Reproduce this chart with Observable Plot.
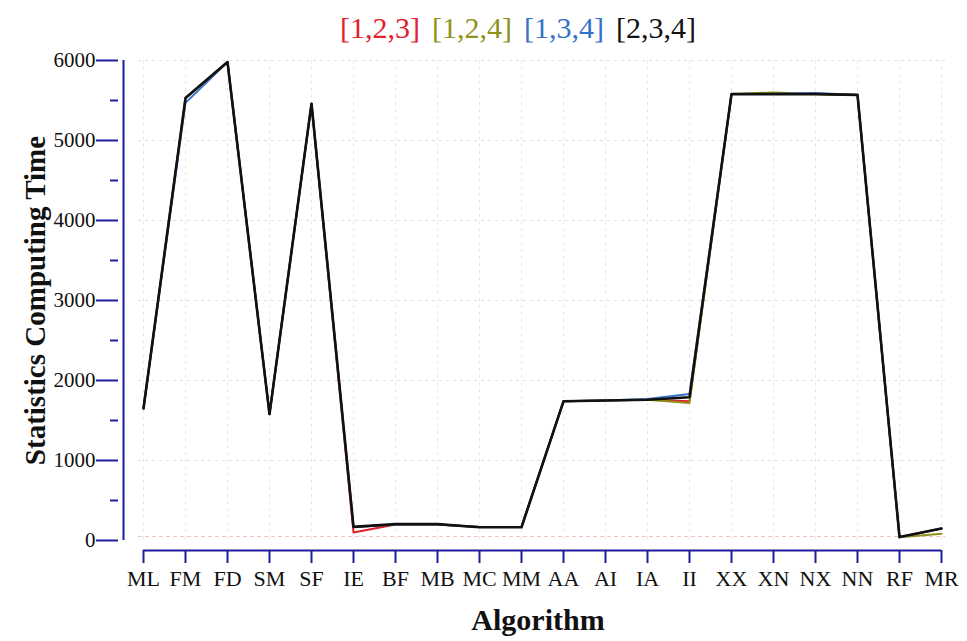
<!DOCTYPE html>
<html>
<head>
<meta charset="utf-8">
<script src="https://cdn.jsdelivr.net/npm/d3@7"></script>
<script src="https://cdn.jsdelivr.net/npm/@observablehq/plot@0.6"></script>
<style>
  html, body { margin: 0; padding: 0; background: #fff; }
  #legend { width: 967px; height: 40px; box-sizing: border-box; padding-top: 13px; padding-left: 340px;
            font-family: "Liberation Serif", "Times New Roman", serif; font-size: 30px; line-height: 30px; white-space: nowrap; overflow: visible; }
  #legend span { margin-right: 12px; }
  #chart svg { display: block; }
</style>
</head>
<body>
<div id="legend"></div>
<div id="chart"></div>
<script>
const categories = ["ML","FM","FD","SM","SF","IE","BF","MB","MC","MM","AA","AI","IA","II","XX","XN","NX","NN","RF","MR"];
const seriesNames = ["[1,2,3]", "[1,2,4]", "[1,3,4]", "[2,3,4]"];
const seriesColors = ["#e3202b", "#8f9118", "#3572c9", "#111111"];
const s123 = [1650, 5530, 5980, 1580, 5460, 100, 200, 200, 170, 170, 1740, 1750, 1760, 1740, 5580, 5580, 5580, 5570, 40, 150];
const s124 = [1650, 5530, 5980, 1580, 5460, 170, 200, 200, 170, 170, 1740, 1750, 1760, 1720, 5580, 5600, 5580, 5570, 40, 85];
const s134 = [1650, 5470, 5980, 1580, 5460, 170, 200, 200, 170, 170, 1740, 1750, 1770, 1830, 5580, 5580, 5595, 5570, 40, 150];
const s234 = [1650, 5530, 5980, 1580, 5460, 170, 205, 205, 165, 165, 1740, 1750, 1760, 1790, 5580, 5580, 5580, 5570, 45, 150];
const yMajor = [0, 1000, 2000, 3000, 4000, 5000, 6000];
const yMinor = [500, 1500, 2500, 3500, 4500, 5500];

const allSeries = [s123, s124, s134, s234];
const data = allSeries.flatMap((vals, si) =>
  vals.map((v, i) => ({ series: seriesNames[si], alg: categories[i], value: v })));

const legend = document.getElementById("legend");
seriesNames.forEach((n, i) => {
  const s = document.createElement("span");
  s.textContent = n;
  s.style.color = seriesColors[i];
  legend.appendChild(s);
});

const axisBlue = "#1c1c9c";

const chart = Plot.plot({
  width: 967,
  height: 601,
  marginLeft: 138,
  marginRight: 22,
  marginTop: 20,
  marginBottom: 101,
  style: { fontFamily: "Liberation Serif, Times New Roman, serif", fontSize: "22px", background: "#fff", color: "#111" },
  x: { type: "point", domain: categories, padding: 0, axis: null },
  y: { domain: [0, 6000], axis: null },
  color: { domain: seriesNames, range: seriesColors },
  marks: [
    Plot.gridY(yMajor.slice(1), { stroke: "#bbb", strokeOpacity: 0.45, strokeDasharray: "3,4" }),
    Plot.gridX(categories, { stroke: "#bbb", strokeOpacity: 0.35, strokeDasharray: "3,4" }),
    Plot.ruleY([0], { stroke: "#e0a088", strokeOpacity: 0.6, strokeDasharray: "4,3", dy: -4 }),
    // y axis line and ticks
    Plot.ruleX([categories[0]], { y1: () => 0, y2: () => 6000, dx: -20, stroke: axisBlue, strokeWidth: 2 }),
    Plot.axisY(yMajor, { anchor: "left", tickSize: 22, tickPadding: 1, dx: -20, stroke: axisBlue, strokeWidth: 2, fill: "#111", label: null, fontSize: 21, tickFormat: d3.format("d") }),
    Plot.axisY(yMinor, { anchor: "left", tickSize: 8, dx: -20, stroke: axisBlue, strokeWidth: 2, tickFormat: () => "", label: null }),
    // x axis line and ticks
    Plot.ruleY([0], { x1: () => categories[0], x2: () => categories[categories.length - 1], dy: 10, stroke: axisBlue, strokeWidth: 2 }),
    Plot.axisX(categories, { anchor: "bottom", tickSize: 13, tickPadding: 7, dy: 10, stroke: axisBlue, strokeWidth: 2, fill: "#111", label: null, fontSize: 22 }),
    // series lines
    Plot.lineY(data.filter(d => d.series !== "[2,3,4]"), { x: "alg", y: "value", z: "series", stroke: "series", strokeWidth: 2 }),
    Plot.lineY(data.filter(d => d.series === "[2,3,4]"), { x: "alg", y: "value", stroke: "series", strokeWidth: 2.6 }),
    // axis titles
    Plot.text(["Algorithm"], { frameAnchor: "bottom", dy: 80, dx: -4, text: d => d, fontWeight: "bold", fontSize: 30, lineAnchor: "middle", fill: "#111" }),
    Plot.text(["Statistics Computing Time"], { frameAnchor: "left", rotate: -90, dx: -103, text: d => d, textAnchor: "middle", fontWeight: "bold", fontSize: 29, lineAnchor: "middle", fill: "#111" })
  ]
});
document.getElementById("chart").appendChild(chart);
</script>
</body>
</html>
